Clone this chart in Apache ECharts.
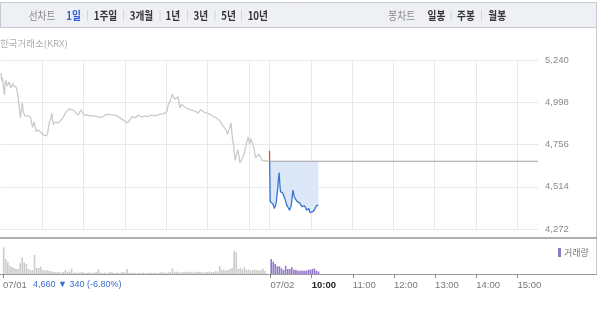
<!DOCTYPE html>
<html><head><meta charset="utf-8">
<script src="https://cdn.jsdelivr.net/npm/echarts@6/dist/echarts.min.js"></script>
<style>html,body{margin:0;padding:0;background:#fff}#c{width:600px;height:330px}</style>
</head><body><div id="c"></div>
<script>
// ---------------- DATA ----------------
const days = ['07/01', '07/02'];
const prevTimes = ['09:00','09:01','09:02','09:04','09:05','09:06','09:07','09:09','09:10','09:12','09:14','09:15','09:17','09:19','09:22','09:24','09:26','09:27','09:28','09:30','09:31','09:32','09:33','09:35','09:37','09:40','09:43','09:45','09:46','09:48','09:50','09:51','09:54','09:56','09:59','10:02','10:04','10:06','10:08','10:10','10:12','10:14','10:15','10:16','10:18','10:20','10:23','10:26','10:28','10:30','10:32','10:34','10:36','10:39','10:41','10:43','10:46','10:49','10:52','10:54','10:56','10:58','11:01','11:05','11:10','11:15','11:20','11:25','11:28','11:31','11:33','11:37','11:41','11:44','11:48','11:52','11:56','12:00','12:04','12:07','12:10','12:12','12:16','12:19','12:23','12:26','12:30','12:34','12:38','12:43','12:48','12:53','12:58','13:01','13:03','13:05','13:07','13:09','13:10','13:12','13:13','13:15','13:17','13:19','13:20','13:22','13:24','13:26','13:29','13:32','13:36','13:39','13:43','13:46','13:48','13:50','13:52','13:56','14:00','14:03','14:06','14:09','14:12','14:15','14:18','14:21','14:24','14:27','14:29','14:30','14:32','14:34','14:36','14:38','14:39','14:40','14:42','14:44','14:46','14:47','14:49','14:51','14:53','14:55','14:57','14:59','15:01','15:03','15:05','15:07','15:09','15:10','15:12','15:15','15:17','15:19','15:20','15:29'];
const prevPrices = [5165,5120,5140,5070,5040,5110,5125,5090,5100,5115,5080,5090,5105,5090,5085,5050,4990,4950,4910,4960,4995,4950,4935,4920,4915,4920,4910,4870,4855,4885,4850,4830,4840,4830,4820,4810,4805,4805,4830,4880,4900,4935,4895,4870,4885,4880,4880,4890,4900,4910,4925,4940,4945,4960,4950,4955,4950,4935,4925,4935,4955,4940,4925,4925,4920,4920,4915,4910,4915,4925,4935,4930,4925,4925,4920,4910,4900,4890,4880,4895,4915,4920,4910,4925,4915,4915,4920,4915,4925,4920,4925,4930,4935,4945,4985,5000,5020,5045,5030,5040,5015,5025,5030,4990,4965,4985,4995,4975,4965,4960,4955,4950,4945,4935,4935,4955,4950,4940,4935,4930,4925,4915,4910,4900,4890,4870,4855,4840,4815,4810,4850,4880,4800,4745,4700,4665,4700,4725,4680,4650,4665,4680,4700,4735,4770,4800,4760,4790,4800,4740,4700,4680,4690,4700,4685,4665,4660,4660];
const todayTimes = ['09:00','09:01','09:03','09:05','09:07','09:09','09:10','09:11','09:12','09:13','09:14','09:15','09:16','09:19','09:22','09:25','09:27','09:29','09:31','09:32','09:33','09:34','09:36','09:40','09:44','09:47','09:51','09:54','09:57','09:59','10:02','10:05','10:08','10:11'];
const todayPrices = [4720,4430,4420,4415,4390,4410,4430,4470,4505,4560,4595,4530,4485,4480,4450,4410,4395,4380,4400,4420,4460,4495,4455,4430,4420,4400,4405,4380,4390,4365,4370,4380,4405,4410];
const prevClose = 4660;
const closeChange = -340;
const closeChangePct = -6.80;
const priceTicks = [4272, 4514, 4756, 4998, 5240];
// volume, 3-minute buckets
const prevVolume = [26600,15000,12000,8000,7000,6000,5000,5000,11000,16500,11700,10000,5000,4000,4000,19000,6000,6000,7500,4000,3500,4000,3000,3000,2000,2000,2000,2000,1500,2000,4000,2000,2500,5500,1500,
 1500,1000,1500,2000,1500,1000,1500,1500,1000,1500,2000,
 5000,
 1500,1000,1500,1000,1500,2000,1500,1000,1500,1000,1500,2000,1500,
 5000,
 1500,1000,1500,1000,1000,1500,1000,1500,1000,1000,1500,1000,1500,1000,1000,1500,2000,1500,1000,1500,2000,
 5500,
 2000,2500,2000,1500,2000,2000,2500,2000,2000,1500,2000,2500,2000,2000,1500,2000,2000,2500,2000,2000,3000,2500,
 8000,4000,4500,3500,4000,5000,6000,23000,21600,5000,6000,4500,7000,4000,4500,3500,4000,4500,4000,3500,4000,5500,3000,0,0];
const todayVolume = [15000,12300,10000,7700,7700,5700,4000,8300,5000,5000,6700,4300,4300,3300,3300,3300,3300,3300,4300,4300,5000,5500,3300,2500];
const volumeBucket = 3;
const tickTimes = ['07/01 09:00','07/02 09:00','07/02 10:00','07/02 11:00','07/02 12:00','07/02 13:00','07/02 14:00','07/02 15:00'];
const tickLabels = ['07/01','07/02','10:00','11:00','12:00','13:00','14:00','15:00'];
const gridTimes = ['07/01 10:00','07/01 11:00','07/01 12:00','07/01 13:00','07/01 14:00','07/01 15:00','07/02 09:00','07/02 10:00','07/02 11:00','07/02 12:00','07/02 13:00','07/02 14:00','07/02 15:00'];
const currentTick = '10:00';
const toolbarLeft = ['선차트','1일','1주일','3개월','1년','3년','5년','10년'];
const toolbarRight = ['봉차트','일봉','주봉','월봉'];
const sourceLabel = '한국거래소(KRX)';
const volumeName = '거래량';

// ---------------- BUILD ----------------
const pad = n => (n < 10 ? '0' : '') + n;
const clock = m => pad(9 + Math.floor(m / 60)) + ':' + pad(m % 60);
const cats = [];
for (let m = 0; m < 390; m++) cats.push(days[0] + ' ' + clock(m));
for (let m = 0; m <= 390; m++) cats.push(days[1] + ' ' + clock(m));

const prevData = prevTimes.map((t, i) => [days[0] + ' ' + t, prevPrices[i]]);
const todayData = todayTimes.map((t, i) => [days[1] + ' ' + t, todayPrices[i]]);
const closeLine = [[days[1] + ' 09:00', prevClose], [days[1] + ' 15:30', prevClose]];

const volData = [];
prevVolume.forEach((v, i) => volData.push({ value: [days[0] + ' ' + clock(i * volumeBucket + 1), v], itemStyle: { color: '#cccccc' } }));
todayVolume.forEach((v, i) => volData.push({ value: [days[1] + ' ' + clock(i * volumeBucket + 1), v] }));

const tickMap = {};
tickTimes.forEach((t, i) => tickMap[t] = tickLabels[i]);
const gridSet = new Set(gridTimes);

const KR = '"Noto Sans CJK KR", sans-serif';
const NUM = '"Liberation Sans", "Noto Sans CJK KR", sans-serif';

const graphics = [];
graphics.push({ type: 'rect', shape: { x: 0.5, y: 2.5, width: 596, height: 25 }, style: { fill: '#eef0f4', stroke: '#c4c8d0', lineWidth: 1 }, z: 0 });
const leftX = [42, 73.5, 105.5, 141.5, 172.8, 200.8, 228.5, 257.8];
const leftSep = [87.5, 123.5, 160, 187.5, 215, 241.5];
const tbScale = 0.84;
toolbarLeft.forEach((t, i) => graphics.push({ type: 'text', x: leftX[i], y: 15.5, scaleX: tbScale, style: { text: t, align: 'center', verticalAlign: 'middle', fill: i === 0 ? '#8a8a8a' : (i === 1 ? '#2f5fd0' : '#333'), font: (i === 0 ? 'normal ' : 'bold ') + '11.5px ' + KR } }));
leftSep.forEach(x => graphics.push({ type: 'line', shape: { x1: x, y1: 10, x2: x, y2: 21 }, style: { stroke: '#d3d6dc', lineWidth: 1 } }));
const rightX = [401.7, 436.5, 466, 497.2];
const rightSep = [451, 481.5];
toolbarRight.forEach((t, i) => graphics.push({ type: 'text', x: rightX[i], y: 15.5, scaleX: tbScale, style: { text: t, align: 'center', verticalAlign: 'middle', fill: i === 0 ? '#8a8a8a' : '#333', font: (i === 0 ? 'normal ' : 'bold ') + '11.5px ' + KR } }));
rightSep.forEach(x => graphics.push({ type: 'line', shape: { x1: x, y1: 10, x2: x, y2: 21 }, style: { stroke: '#d3d6dc', lineWidth: 1 } }));
graphics.push({ type: 'text', x: 0, y: 43.5, style: { text: sourceLabel, verticalAlign: 'middle', fill: '#b0b0b0', font: '9.5px ' + KR } });
graphics.push({ type: 'line', shape: { x1: 596.5, y1: 28, x2: 596.5, y2: 274 }, style: { stroke: '#c8c8c8', lineWidth: 1 } });
graphics.push({ type: 'line', shape: { x1: 0, y1: 238, x2: 597, y2: 238 }, style: { stroke: '#959595', lineWidth: 1.5 } });
graphics.push({ type: 'line', shape: { x1: 0, y1: 274.5, x2: 597, y2: 274.5 }, style: { stroke: '#9a9a9a', lineWidth: 1 } });
const closeText = prevClose.toLocaleString('en-US') + ' ' + (closeChange < 0 ? '▼' : '▲') + ' ' + Math.abs(closeChange) + ' (' + closeChangePct.toFixed(2) + '%)';
graphics.push({ type: 'text', x: 33, y: 285, style: { text: closeText, verticalAlign: 'middle', fill: '#3a6bd0', font: '9px ' + NUM } });

const chart = echarts.init(document.getElementById('c'));
chart.setOption({
  animation: false,
  backgroundColor: '#fff',
  graphic: graphics,
  legend: {
    data: [{ name: volumeName, icon: 'rect' }], left: 553, top: 243, itemWidth: 3, itemHeight: 9, itemGap: 3,
    textStyle: { fontSize: 9, color: '#777', fontFamily: KR, padding: [0, 0, 0, -2] }, selectedMode: false
  },
  visualMap: {
    show: false, type: 'piecewise', seriesIndex: 1, dimension: 1,
    pieces: [
      { gt: prevClose, lte: priceTicks[priceTicks.length - 1], color: '#e2453c' },
      { gte: priceTicks[0], lte: prevClose, color: '#3a74d2' }
    ]
  },
  grid: [
    { left: 1, width: 537, top: 60, height: 169 },
    { left: 1, width: 537, top: 238, height: 36 }
  ],
  xAxis: [
    { type: 'category', gridIndex: 0, data: cats, boundaryGap: false,
      axisLine: { show: false }, axisTick: { show: false }, axisLabel: { show: false },
      splitLine: { show: true, interval: (i, v) => gridSet.has(v), lineStyle: { color: '#e9e9e9', width: 1 } } },
    { type: 'category', gridIndex: 1, data: cats, boundaryGap: false,
      axisLine: { show: false },
      axisTick: { show: true, interval: (i, v) => !!tickMap[v], length: 4, lineStyle: { color: '#888' } },
      axisLabel: { show: true, interval: (i, v) => !!tickMap[v], align: 'left', margin: 7, fontSize: 9.5, color: '#777', fontFamily: NUM,
        formatter: v => tickMap[v] === currentTick ? '{b|' + tickMap[v] + '}' : tickMap[v],
        rich: { b: { fontWeight: 'bold', color: '#222', fontSize: 9.5, fontFamily: NUM } } },
      splitLine: { show: false } }
  ],
  yAxis: [
    { type: 'value', gridIndex: 0, position: 'right', min: priceTicks[0], max: priceTicks[priceTicks.length - 1],
      axisLine: { show: false }, axisTick: { show: false, customValues: priceTicks },
      axisLabel: { customValues: priceTicks, margin: 7, fontSize: 9.5, color: '#8a8a8a', fontFamily: NUM, formatter: v => v.toLocaleString('en-US') },
      splitLine: { show: true, lineStyle: { color: '#e9e9e9', width: 1 } } },
    { type: 'value', gridIndex: 1, min: 0, max: 36000, show: false, splitLine: { show: false } }
  ],
  series: [
    { name: 'prev', type: 'line', xAxisIndex: 0, yAxisIndex: 0, data: prevData, showSymbol: false, symbol: 'none',
      lineStyle: { color: '#cbcbcb', width: 1.3 }, silent: true },
    { name: 'today', type: 'line', xAxisIndex: 0, yAxisIndex: 0, data: todayData, showSymbol: false, symbol: 'none',
      lineStyle: { width: 1.3 }, areaStyle: { origin: prevClose, color: '#dce8f8', opacity: 1 }, silent: true, z: 3 },
    { name: 'close', type: 'line', xAxisIndex: 0, yAxisIndex: 0, data: closeLine, showSymbol: false, symbol: 'none',
      lineStyle: { color: '#a3a3a3', width: 1 }, silent: true, z: 4 },
    { name: volumeName, type: 'bar', xAxisIndex: 1, yAxisIndex: 1, data: volData, barWidth: 1.6,
      itemStyle: { color: '#8f76c9' }, silent: true }
  ]
});
</script></body></html>
